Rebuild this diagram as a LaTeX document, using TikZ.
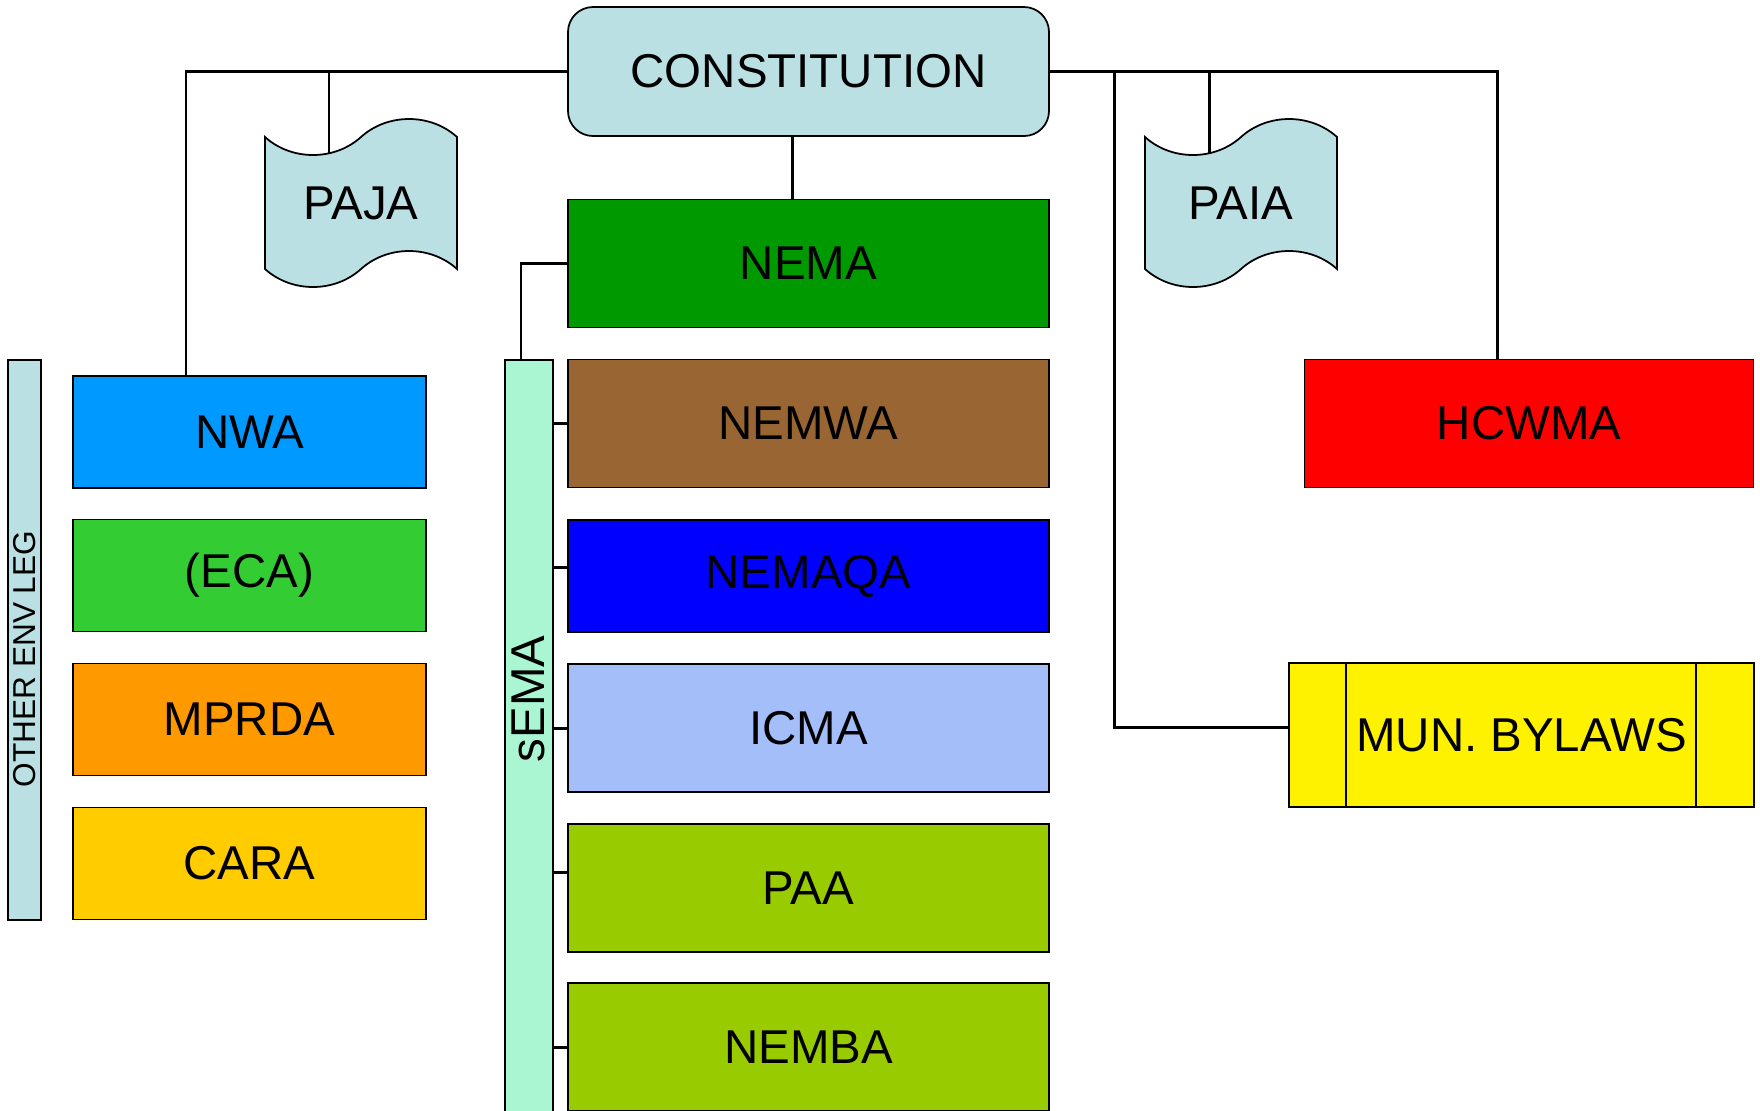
\documentclass[tikz,border=0pt]{standalone}
\usepackage{fontspec}
\setmainfont{Liberation Sans}
\usepackage{tikz}
\usetikzlibrary{calc, positioning, shapes.symbols, backgrounds}
\usepackage{xcolor}
\definecolor{lawblue}{HTML}{BBE0E3}
\definecolor{nemagreen}{HTML}{009900}
\definecolor{wastebrown}{HTML}{996633}
\definecolor{airblue}{HTML}{0000FF}
\definecolor{coastblue}{HTML}{A4BEFA}
\definecolor{biogreen}{HTML}{99CC00}
\definecolor{waterblue}{HTML}{0099FF}
\definecolor{ecagreen}{HTML}{33CC33}
\definecolor{mineorange}{HTML}{FF9900}
\definecolor{caragold}{HTML}{FFCC00}
\definecolor{semamint}{HTML}{AAF5D2}

\begin{document}
\begin{tikzpicture}[font=\fontsize{13.5}{16}\selectfont,
    act/.style={draw, line width=0.5pt, minimum width=4.81cm, minimum height=1.28cm, inner sep=0pt},
    leftact/.style={draw, line width=0.5pt, minimum width=3.53cm, minimum height=1.12cm, inner sep=0pt},
    scroll/.style={tape, draw, fill=lawblue, line width=0.5pt, minimum width=1.92cm, minimum height=1.68cm, tape bend height=0.36cm, inner sep=0pt},
    bar/.style={draw, line width=0.5pt, inner sep=0pt},
    conn/.style={line width=0.85pt}]
        \useasboundingbox (0,0) rectangle (17.6,-11.1);
        % top level
        \node[act, fill=lawblue, rounded corners=0.25cm, minimum height=1.29cm] (const) at (8.085,-0.715) {CONSTITUTION};
        \node[scroll] (paja) at (3.61,-2.03) {PAJA};
        \node[scroll] (paia) at (12.41,-2.03) {PAIA};
        % NEMA and the SEMAs
        \node[act, fill=nemagreen] (nema) at (8.085,-2.635) {NEMA};
        \node[bar, fill=semamint, minimum width=0.48cm, minimum height=7.7cm] (sema) at (5.29,-7.45) {};
        \node[rotate=90] (semalbl) at (5.28,-6.99) {sEMA};
        \node[act, fill=wastebrown] (nemwa) at (8.085,-4.235) {NEMWA};
        \node[act, fill=airblue, minimum height=1.12cm] (nemaqa) at (8.085,-5.76) {NEMAQA};
        \node[act, fill=coastblue] (icma) at (8.085,-7.28) {ICMA};
        \node[act, fill=biogreen] (paa) at (8.085,-8.88) {PAA};
        \node[act, fill=biogreen] (nemba) at (8.085,-10.47) {NEMBA};
        % other legislation
        \node[bar, fill=lawblue, minimum width=0.33cm, minimum height=5.6cm] (otherleg) at (0.245,-6.40) {};
        \node[rotate=90, font=\fontsize{9}{11}\selectfont] (otherlbl) at (0.245,-6.59) {OTHER ENV LEG};
        \node[leftact, fill=waterblue] (nwa) at (2.495,-4.32) {NWA};
        \node[leftact, fill=ecagreen] (eca) at (2.495,-5.755) {(ECA)};
        \node[leftact, fill=mineorange] (mprda) at (2.495,-7.195) {MPRDA};
        \node[leftact, fill=caragold] (cara) at (2.495,-8.635) {CARA};
        % right side
        \node[act, fill=red, minimum width=4.49cm] (hcwma) at (15.29,-4.235) {HCWMA};
        \node[act, fill=yellow, minimum width=4.65cm, minimum height=1.44cm] (mun) at (15.215,-7.35) {MUN. BYLAWS};
        \draw[line width=0.5pt] ([xshift=0.58cm]mun.north west) -- ([xshift=0.58cm]mun.south west);
        \draw[line width=0.5pt] ([xshift=-0.59cm]mun.north east) -- ([xshift=-0.59cm]mun.south east);
        \coordinate (munx) at (11.14,0);
        % connectors
        \begin{scope}[on background layer]
            \draw[conn] (const.west) -| ([xshift=-0.635cm]nwa.north);
            \draw[conn] ([xshift=-0.32cm]paja.center) -- ([xshift=-0.32cm]paja.center |- const.west);
            \draw[conn] (const.east) -| ([xshift=-0.32cm]hcwma.north);
            \draw[conn] ([xshift=-0.32cm]paia.center) -- ([xshift=-0.32cm]paia.center |- const.east);
            \draw[conn] ([yshift=0.08cm]mun.west) -| (const.east -| munx);
            \draw[conn] ([xshift=-0.16cm]const.south) -- ([xshift=-0.16cm]nema.north);
            \draw[conn] (nema.west) -| ([xshift=-0.08cm]sema.north);
            \foreach \n/\dy in {nemwa/0, nemaqa/0.09, icma/0, paa/0.16, nemba/0}
                \draw[conn] ([yshift=\dy cm]\n.west) -- ([yshift=\dy cm]\n.west -| sema.east);
        \end{scope}
      \end{tikzpicture}
\end{document}
